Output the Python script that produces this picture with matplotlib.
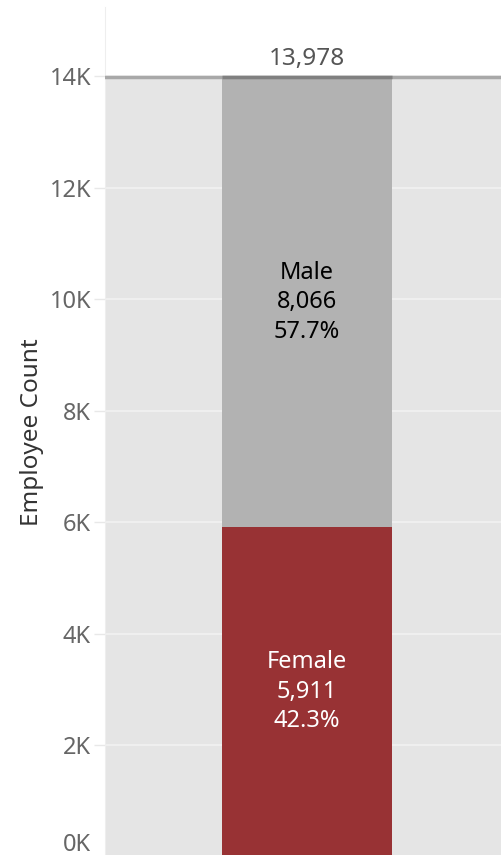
import matplotlib.pyplot as plt

plt.rcParams["font.family"] = ["Noto Sans", "DejaVu Sans"]

# employee counts by gender
genders = ["Female", "Male"]
counts = [5911, 8066]
total = 13978
bar_colors = ["#983234", "#b2b2b2"]
label_colors = ["white", "black"]
y_ticks = [0, 2000, 4000, 6000, 8000, 10000, 12000, 14000]
y_tick_labels = ["0K", "2K", "4K", "6K", "8K", "10K", "12K", "14K"]

fig = plt.figure(figsize=(5.02, 8.55), dpi=100)
ax = fig.add_axes([105 / 502, -1.5 / 855, 397 / 502, 849.5 / 855])

ax.set_xlim(-0.5, 0.5)
ax.set_ylim(0, 15240)

bar_x = 0.009
bar_w = 0.428

# shaded band up to the total, with total line on top
ax.axhspan(0, total, color="#e5e5e5", zorder=0, lw=0)
for t in y_ticks[1:]:
    ax.axhline(t, color="#f2f2f2", lw=1.2, zorder=1)

bottom = 0
for g, c, col, tcol in zip(genders, counts, bar_colors, label_colors):
    ax.bar(bar_x, c, width=bar_w, bottom=bottom, color=col, zorder=2)
    pct = c / sum(counts) * 100
    ax.text(bar_x, bottom + c * 0.5, f"{g}\n{c:,}\n{pct:.1f}%",
            ha="center", va="center", color=tcol, fontsize=17,
            linespacing=1.3, zorder=3)
    bottom += c

ax.axhline(total, color="#a8a8a8", lw=2.5, zorder=4)
ax.plot([bar_x - bar_w / 2, bar_x + bar_w / 2], [total, total],
        color="#808080", lw=2.5, zorder=5, solid_capstyle="butt")
ax.text(bar_x, total + 110, f"{total:,}", ha="center", va="bottom",
        fontsize=17.5, color="#555555", zorder=5)

ax.set_yticks(y_ticks)
ax.set_yticklabels(y_tick_labels)
ax.set_xticks([])
ax.tick_params(axis="y", colors="#e8e8e8", labelcolor="#666666",
               labelsize=17, length=8, width=1, pad=2)
# keep the bottom label inside the figure
ax.get_yticklabels()[0].set_verticalalignment("bottom")
ax.set_ylabel("Employee Count", fontsize=17.5, color="#333333", labelpad=4)

for side in ["top", "right", "bottom"]:
    ax.spines[side].set_visible(False)
ax.spines["left"].set_color("#eeeeee")

fig.savefig("out.png", dpi=100)
